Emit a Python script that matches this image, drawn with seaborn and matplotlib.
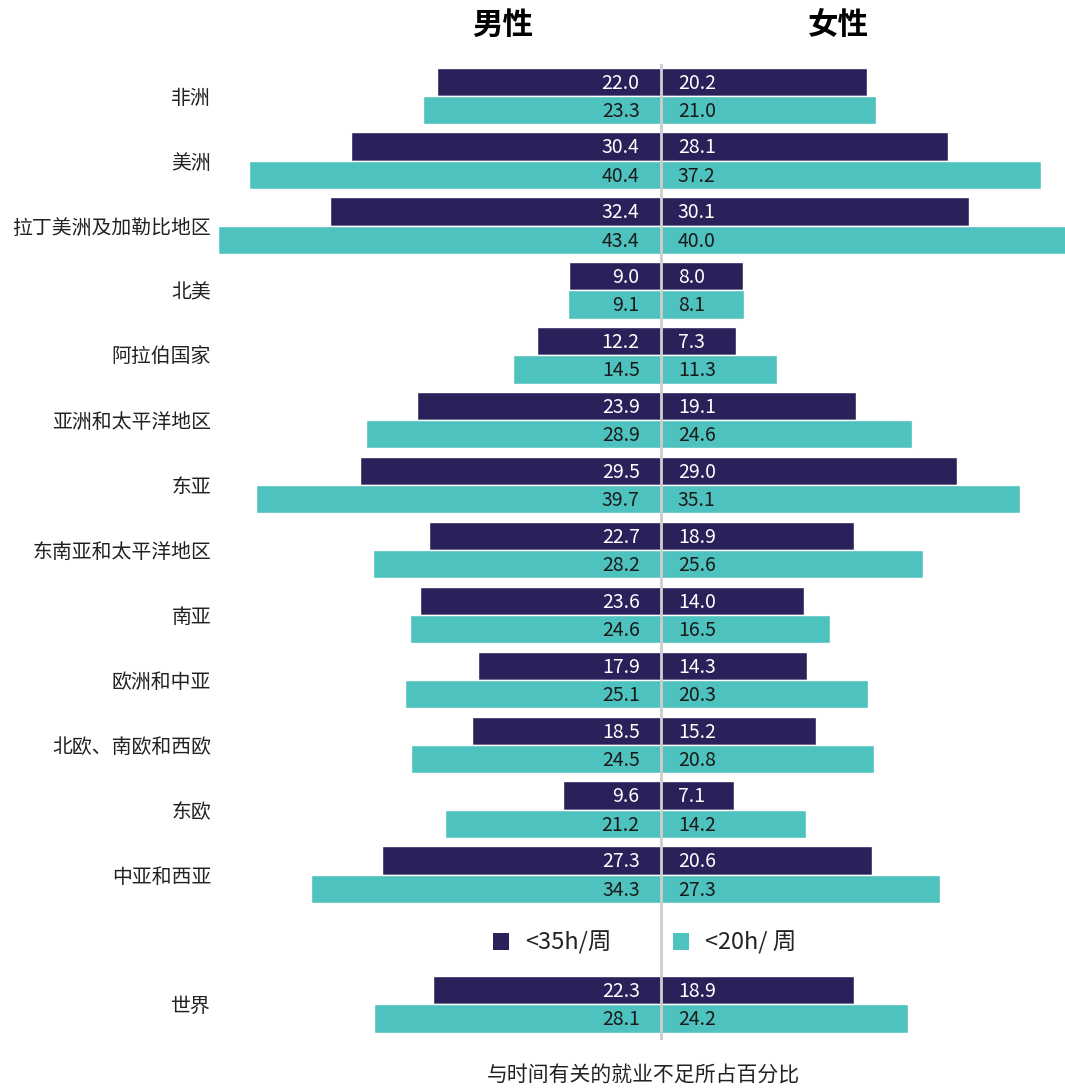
import matplotlib
matplotlib.use("Agg")
import matplotlib.pyplot as plt
import seaborn as sns
import pandas as pd
from matplotlib.patches import Patch

# ---- data ----
regions = ["非洲", "美洲", "拉丁美洲及加勒比地区", "北美", "阿拉伯国家",
           "亚洲和太平洋地区", "东亚", "东南亚和太平洋地区", "南亚",
           "欧洲和中亚", "北欧、南欧和西欧", "东欧", "中亚和西亚", " ", "世界"]
data_regions = [r for r in regions if r.strip()]
male_35 = [22.0, 30.4, 32.4, 9.0, 12.2, 23.9, 29.5, 22.7, 23.6, 17.9, 18.5, 9.6, 27.3, 22.3]
male_20 = [23.3, 40.4, 43.4, 9.1, 14.5, 28.9, 39.7, 28.2, 24.6, 25.1, 24.5, 21.2, 34.3, 28.1]
female_35 = [20.2, 28.1, 30.1, 8.0, 7.3, 19.1, 29.0, 18.9, 14.0, 14.3, 15.2, 7.1, 20.6, 18.9]
female_20 = [21.0, 37.2, 40.0, 8.1, 11.3, 24.6, 35.1, 25.6, 16.5, 20.3, 20.8, 14.2, 27.3, 24.2]
series = ["<35h/周", "<20h/ 周"]
sex_titles = ["男性", "女性"]
xlabel = "与时间有关的就业不足所占百分比"

DARK = "#28215A"
TEAL = "#4EC2BE"
palette = {series[0]: DARK, series[1]: TEAL}

rows = []
for i, r in enumerate(data_regions):
    rows.append(dict(region=r, series=series[0], sex="m", value=-male_35[i]))
    rows.append(dict(region=r, series=series[1], sex="m", value=-male_20[i]))
    rows.append(dict(region=r, series=series[0], sex="f", value=female_35[i]))
    rows.append(dict(region=r, series=series[1], sex="f", value=female_20[i]))
df = pd.DataFrame(rows)

sns.set_theme(style="white")
plt.rcParams['font.family'] = ['Noto Sans CJK SC', 'DejaVu Sans']

W, H = 1065, 1088
fig = plt.figure(figsize=(W / 100, H / 100), dpi=100)
ax = fig.add_axes([218 / W, 1 - 1040 / H, 1 - 218 / W, (1040 - 64) / H])

for sex in ["m", "f"]:
    sns.barplot(data=df[df.sex == sex], x="value", y="region", hue="series",
                order=regions, hue_order=series, palette=palette, width=0.87,
                saturation=1, errorbar=None, edgecolor="white", linewidth=1,
                legend=False, orient="h", ax=ax)

ax.set_xlim(-43.4, 39.55)
ax.set_ylim(14.55, -0.49)
ax.axvline(0, color="#cccccc", lw=2, zorder=5)

# value labels near the centre line
for ci, cont in enumerate(ax.containers):
    color = "white" if ci % 2 == 0 else "#1a1a1a"
    for bar in cont:
        w = bar.get_width()
        if pd.isna(w):
            continue
        y = bar.get_y() + bar.get_height() / 2
        if w < 0:
            ax.annotate(f"{abs(w):.1f}", xy=(0, y), xytext=(-15.5, -1),
                        textcoords="offset points", ha="right", va="center",
                        fontsize=14, color=color, zorder=6)
        else:
            ax.annotate(f"{w:.1f}", xy=(0, y), xytext=(12, -1),
                        textcoords="offset points", ha="left", va="center",
                        fontsize=14, color=color, zorder=6)

ax.set_xticks([])
ax.set_xlabel("")
ax.set_ylabel("")
ax.tick_params(axis="y", length=0, pad=5, labelsize=14.3, labelcolor="#222222")
sns.despine(ax=ax, left=True, bottom=True)

fig.text(503 / W, 1 - 25 / H, sex_titles[0], ha="center", va="center",
         fontsize=22, fontweight="bold", color="black")
fig.text(838 / W, 1 - 25 / H, sex_titles[1], ha="center", va="center",
         fontsize=22, fontweight="bold", color="black")
fig.text(643 / W, 1 - 1076 / H, xlabel, ha="center", va="center",
         fontsize=15, color="#222222")

handles = [Patch(facecolor=DARK, edgecolor="none"), Patch(facecolor=TEAL, edgecolor="none")]
fig.legend(handles, series, loc="center left", bbox_to_anchor=(493 / W, 1 - 943 / H),
           ncol=2, frameon=False, fontsize=17, handlelength=0.68, handleheight=0.68,
           handletextpad=0.68, columnspacing=2.6, borderaxespad=0, borderpad=0,
           labelcolor="#222222")

fig.savefig("out.png", dpi=100)
